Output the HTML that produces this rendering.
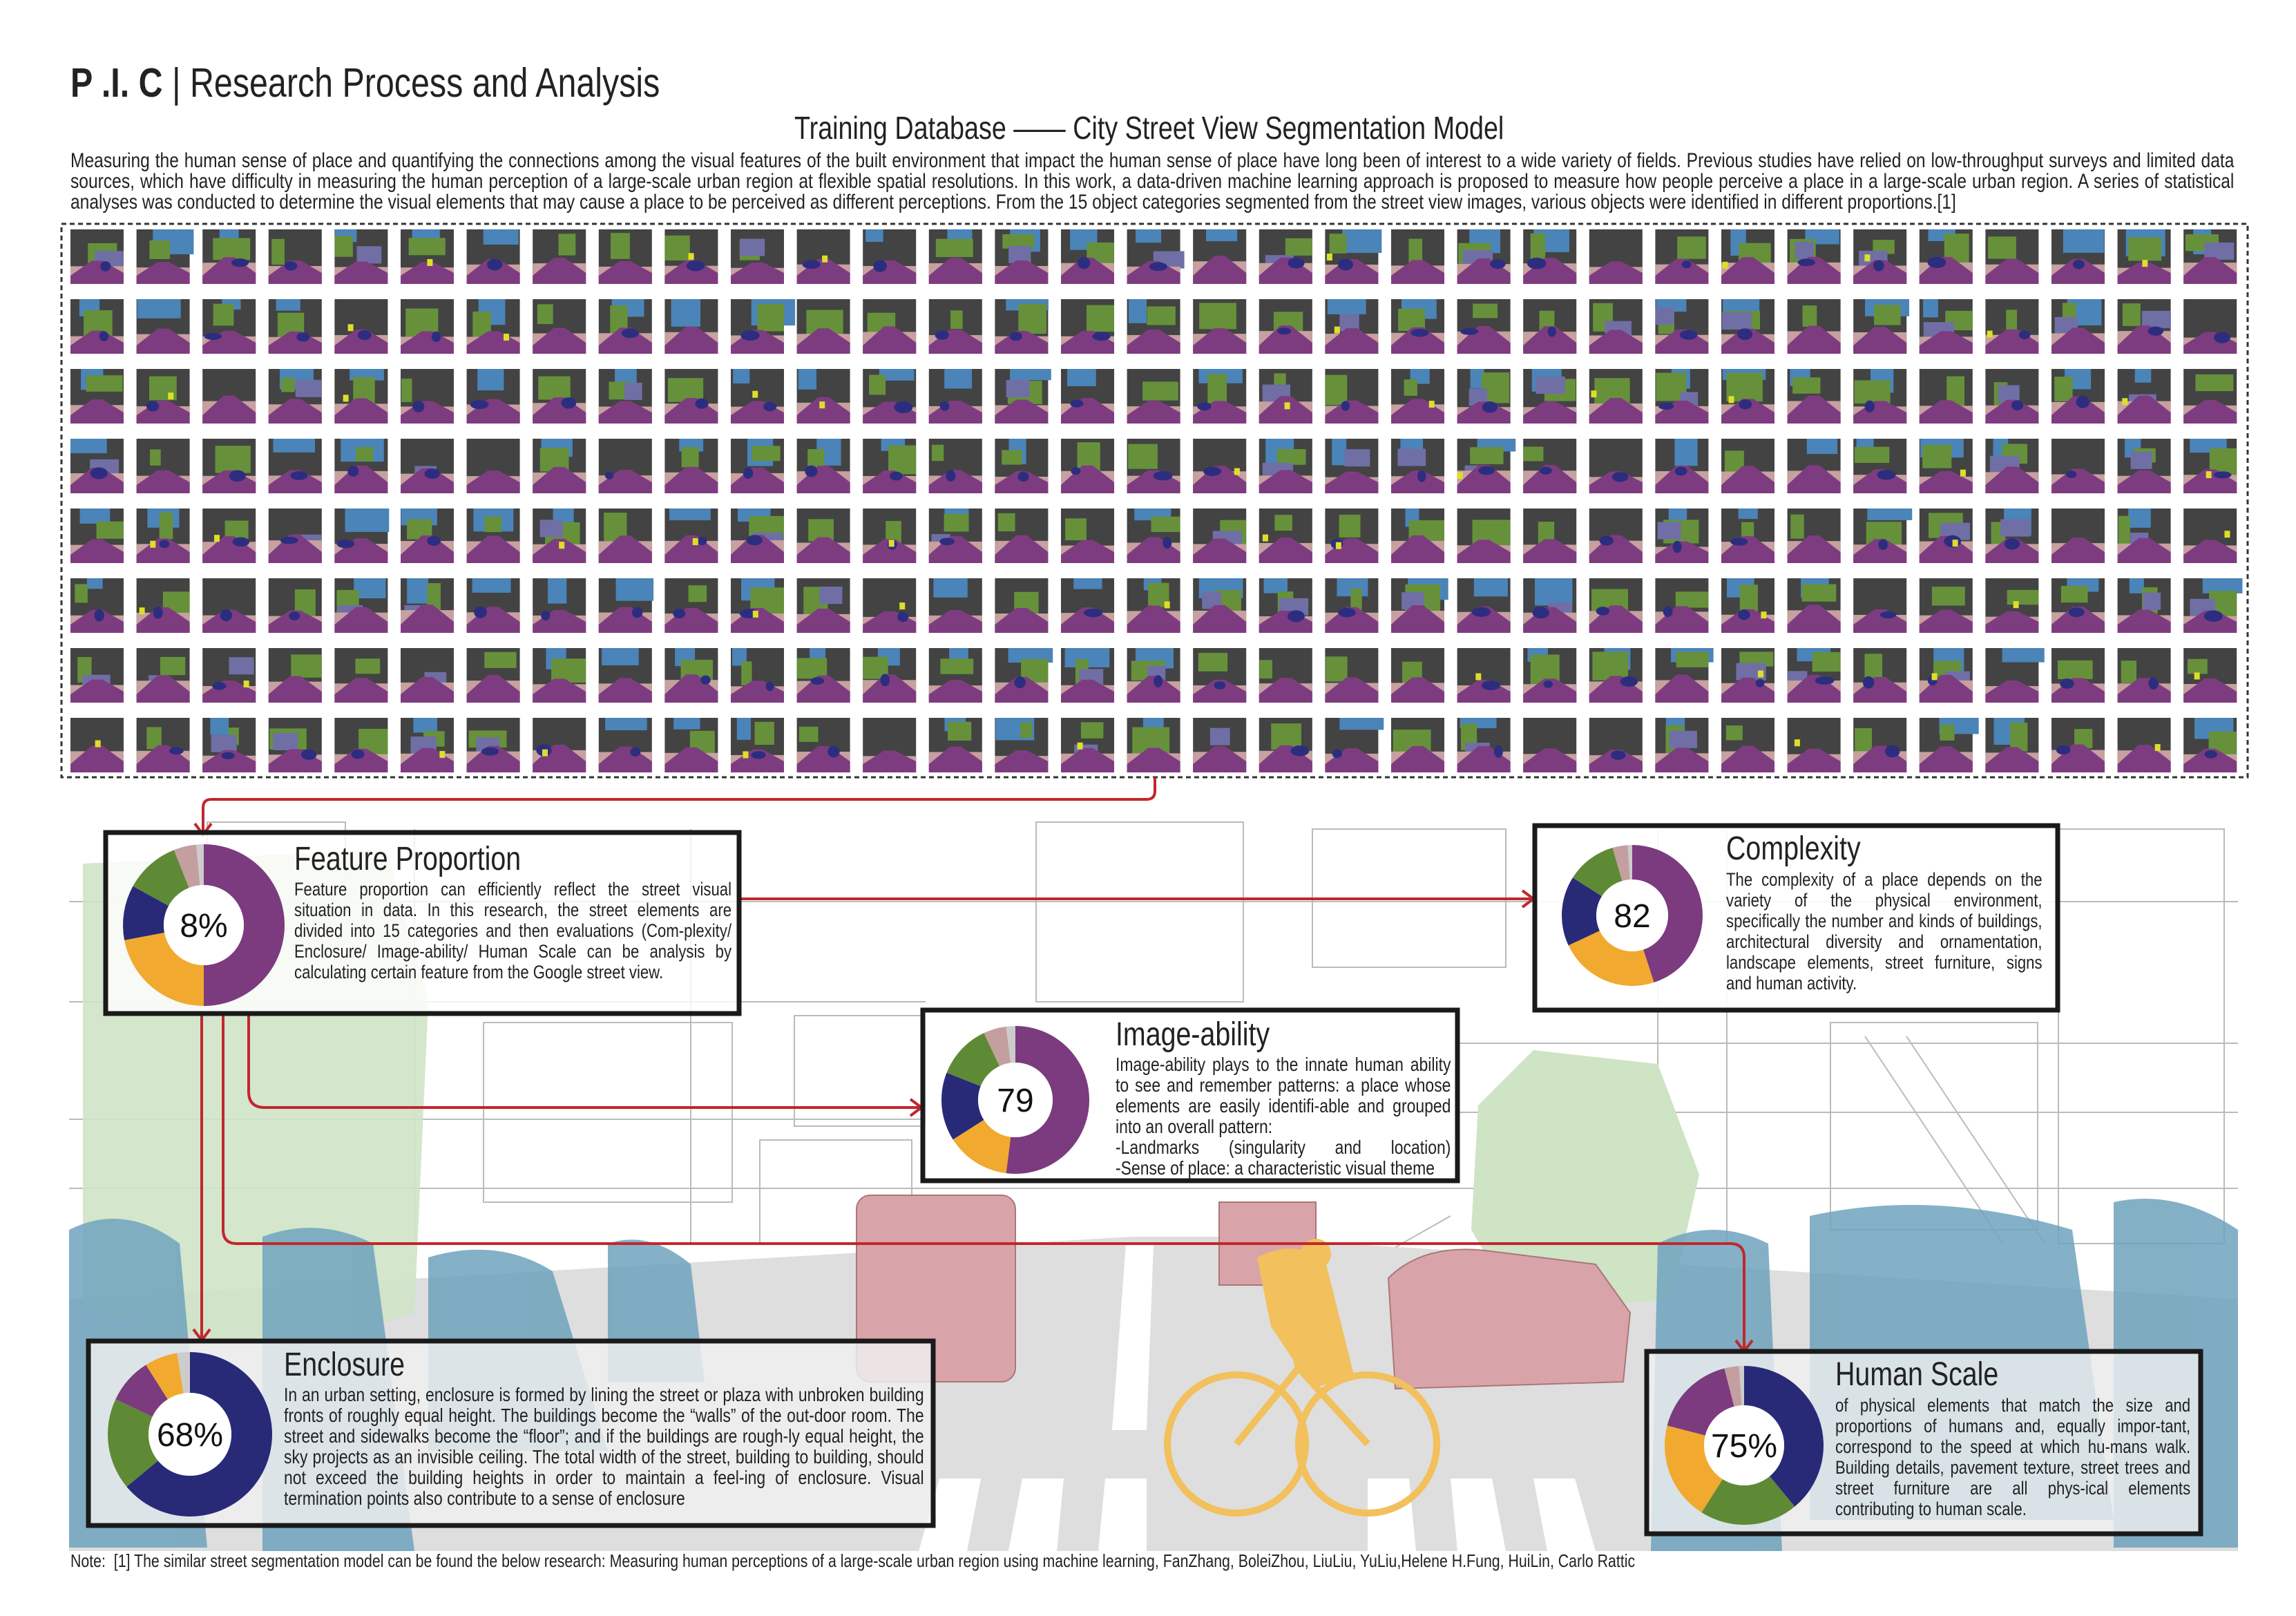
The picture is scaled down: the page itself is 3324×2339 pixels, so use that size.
<!DOCTYPE html>
<html><head><meta charset="utf-8"><style>
html,body{margin:0;padding:0;background:#fff;}
body{width:3324px;height:2339px;position:relative;overflow:hidden;font-family:"Liberation Sans",sans-serif;color:#222;}
.t{position:absolute;transform-origin:0 0;transform:scaleX(0.82);white-space:nowrap;}
.p{position:absolute;transform-origin:0 0;transform:scaleX(0.82);text-align:justify;text-align-last:left;}
svg{position:absolute;left:0;top:0;}
</style></head><body>
<svg id="main" width="3324" height="2339" viewBox="0 0 3324 2339">
 <g id="scene">
  <rect x="100" y="1168" width="3140" height="1077" fill="#fff"/>
  <g stroke="#bbb" stroke-width="2" fill="none">
   <rect x="300" y="1190" width="200" height="120"/><rect x="1500" y="1190" width="300" height="260"/>
   <rect x="1900" y="1200" width="280" height="200"/><rect x="1150" y="1470" width="190" height="160"/>
   <line x1="100" y1="1305" x2="3240" y2="1305"/><line x1="100" y1="1450" x2="1340" y2="1450"/>
   <line x1="100" y1="1620" x2="1340" y2="1620"/><line x1="2110" y1="1510" x2="3240" y2="1510"/>
   <line x1="2110" y1="1610" x2="3240" y2="1610"/><line x1="1340" y1="1720" x2="2130" y2="1720"/>
   <rect x="2980" y="1200" width="240" height="600"/><rect x="2650" y="1480" width="300" height="300"/>
   <line x1="2700" y1="1500" x2="2900" y2="1800"/><line x1="2760" y1="1500" x2="2960" y2="1800"/>
   <rect x="700" y="1480" width="360" height="260"/><rect x="1100" y="1650" width="220" height="150"/>
   <line x1="1340" y1="1760" x2="1640" y2="1930"/><line x1="2100" y1="1760" x2="1800" y2="1930"/>
   <line x1="2400" y1="1200" x2="2400" y2="1800"/><line x1="2500" y1="1200" x2="2500" y2="1800"/>
   <line x1="600" y1="1200" x2="600" y2="1800"/><line x1="1000" y1="1200" x2="1000" y2="1800"/>
   <line x1="100" y1="1720" x2="1340" y2="1720"/><line x1="2110" y1="1720" x2="3240" y2="1720"/>
  </g>
  <polygon points="100,1880 1640,1790 1780,1790 3240,1880 3240,2245 100,2245" fill="#dedede"/>
  <g fill="#fff">
   <polygon points="1360,2140 1420,2140 1400,2245 1330,2245"/><polygon points="1480,2140 1540,2140 1530,2245 1460,2245"/>
   <polygon points="1600,2140 1660,2140 1660,2245 1590,2245"/><polygon points="1980,2140 2040,2140 2050,2245 1980,2245"/>
   <polygon points="2100,2140 2160,2140 2180,2245 2110,2245"/><polygon points="2220,2140 2280,2140 2310,2245 2240,2245"/>
   <polygon points="1630,1800 1670,1800 1660,2070 1610,2070"/>
  </g>
  <path d="M120 1250 L560 1230 L620 1450 L600 1900 L420 1960 L120 1900 Z" fill="#cfe3c5" opacity="0.9"/>
  <path d="M2140 1600 L2220 1520 L2400 1540 L2460 1700 L2420 1880 L2200 1900 L2130 1780 Z" fill="#cfe3c5"/>
  <g fill="#6fa3bd" opacity="0.85">
   <path d="M100 1780 Q180 1740 260 1800 L300 2240 L100 2240 Z"/>
   <path d="M380 1790 Q460 1760 540 1800 L600 2245 L380 2245 Z"/>
   <path d="M620 1820 Q720 1790 800 1840 L880 2100 L620 2100 Z"/>
   <path d="M880 1800 Q940 1780 1000 1830 L1020 2000 L880 2000 Z"/>
   <path d="M2400 1800 Q2480 1760 2560 1800 L2580 2245 L2390 2245 Z"/>
   <path d="M2620 1760 Q2800 1720 3000 1780 L3060 2200 L2620 2200 Z"/>
   <path d="M3060 1740 Q3150 1720 3240 1780 L3240 2240 L3060 2240 Z"/>
  </g>
  <g fill="#d9a4a9" stroke="#a77" stroke-width="2">
   <rect x="1240" y="1730" width="230" height="270" rx="20"/>
   <rect x="1765" y="1740" width="140" height="120"/>
   <path d="M2010 1850 Q2060 1800 2150 1810 L2310 1830 L2360 1900 L2350 2000 L2020 2010 Z"/>
  </g>
  <g fill="none" stroke="#f2c05c" stroke-width="10">
   <circle cx="1790" cy="2090" r="100"/><circle cx="1980" cy="2090" r="100"/>
   <path d="M1790 2090 L1880 1980 L1980 2090 M1880 1980 L1860 1900"/>
  </g>
  <path d="M1820 1820 Q1880 1790 1920 1830 L1960 1990 L1900 2010 L1840 1920 Z" fill="#f2c05c"/>
  <circle cx="1905" cy="1815" r="22" fill="#f2c05c"/>
 </g>
 <rect x="89" y="324" width="3165" height="801" fill="none" stroke="#333" stroke-width="3" stroke-dasharray="7,5"/>
 <g id="thumbs"></g>
 <g id="arrows" fill="none" stroke="#c1272d" stroke-width="4">
  <path d="M1672 1125 L1672 1145 Q1672 1157 1660 1157 L306 1157 Q294 1157 294 1169 L294 1206"/>
  <path d="M1072 1301 L2218 1301"/>
  <path d="M292 1467 L292 1938"/>
  <path d="M360 1467 L360 1580 Q360 1603 383 1603 L1332 1603"/>
  <path d="M323 1467 L323 1780 Q323 1800 343 1800 L2505 1800 Q2525 1800 2525 1820 L2525 1952"/>
  <path d="M282 1192 L294 1208 L306 1192 M2204 1289 L2220 1301 L2204 1313 M280 1924 L292 1940 L304 1924 M1318 1591 L1334 1603 L1318 1615 M2513 1940 L2525 1956 L2537 1940"/>
 </g>
 <g id="boxes"></g>
</svg>

<div class="t" style="left:102px;top:86px;font-size:59px;"><b>P .I. C</b> | Research Process and Analysis</div>
<div class="t" style="left:1150px;top:158px;font-size:46px;">Training Database —— City Street View Segmentation Model</div>
<div class="p" style="left:102px;top:218px;width:3820px;font-size:30px;line-height:30px;">Measuring the human sense of place and quantifying the connections among the visual features of the built environment that impact the human sense of place have long been of interest to a wide variety of fields. Previous studies have relied on low-throughput surveys and limited data sources, which have difficulty in measuring the human perception of a large-scale urban region at flexible spatial resolutions. In this work, a data-driven machine learning approach is proposed to measure how people perceive a place in a large-scale urban region. A series of statistical analyses was conducted to determine the visual elements that may cause a place to be perceived as different perceptions. From the 15 object categories segmented from the street view images, various objects were identified in different proportions.[1]</div>

<div class="t" style="left:426px;top:1216px;font-size:48px;">Feature Proportion</div>
<div class="p" style="left:426px;top:1272px;width:772px;font-size:27px;line-height:30px;">Feature proportion can efficiently reflect the street visual situation in data. In this research, the street elements are divided into 15 categories and then evaluations (Com-plexity/ Enclosure/ Image-ability/ Human Scale can be analysis by calculating certain feature from the Google street view.</div>

<div class="t" style="left:2499px;top:1201px;font-size:48px;">Complexity</div>
<div class="p" style="left:2499px;top:1258px;width:558px;font-size:27px;line-height:30px;">The complexity of a place depends on the variety of the physical environment, specifically the number and kinds of buildings, architectural diversity and ornamentation, landscape elements, street furniture, signs and human activity.</div>

<div class="t" style="left:1615px;top:1470px;font-size:48px;">Image-ability</div>
<div class="p" style="left:1615px;top:1526px;width:592px;font-size:28px;line-height:30px;">Image-ability plays to the innate human ability to see and remember patterns: a place whose elements are easily identifi-able and grouped into an overall pattern:<br><span style="display:block;text-align-last:justify">-Landmarks (singularity and location)</span>-Sense of place: a characteristic visual theme</div>

<div class="t" style="left:411px;top:1948px;font-size:48px;">Enclosure</div>
<div class="p" style="left:411px;top:2004px;width:1130px;font-size:28px;line-height:30px;">In an urban setting, enclosure is formed by lining the street or plaza with unbroken building fronts of roughly equal height. The buildings become the “walls” of the out-door room. The street and sidewalks become the “floor”; and if the buildings are rough-ly equal height, the sky projects as an invisible ceiling. The total width of the street, building to building, should not exceed the building heights in order to maintain a feel-ing of enclosure. Visual termination points also contribute to a sense of enclosure</div>

<div class="t" style="left:2657px;top:1962px;font-size:48px;">Human Scale</div>
<div class="p" style="left:2657px;top:2019px;width:627px;font-size:27px;line-height:30px;">of physical elements that match the size and proportions of humans and, equally impor-tant, correspond to the speed at which hu-mans walk. Building details, pavement texture, street trees and street furniture are all phys-ical elements contributing to human scale.</div>

<div class="t" style="left:102px;top:2244px;font-size:26px;">Note:&nbsp; [1] The similar street segmentation model can be found the below research: Measuring human perceptions of a large-scale urban region using machine learning, FanZhang, BoleiZhou, LiuLiu, YuLiu,Helene H.Fung, HuiLin, Carlo Rattic</div>

<script>
// Donut data (fractions, clockwise from top)
const segColors = ["#7b3b7e","#f1a92f","#282a78","#5f8a35","#c49f9f","#cccccc"];
const fpValues  = [0.50,0.22,0.11,0.11,0.045,0.015];
const cxValues  = [0.45,0.23,0.16,0.115,0.035,0.01];
const imValues  = [0.52,0.14,0.15,0.12,0.05,0.02];
const enValues  = [0.64,0.18,0.09,0.065,0,0.025];
const hsValues  = [0.39,0.20,0.20,0.17,0.03,0.01];
const enColors  = ["#282a78","#5f8a35","#7b3b7e","#f1a92f","#c49f9f","#cccccc"];
const hsColors  = ["#282a78","#5f8a35","#f1a92f","#7b3b7e","#c49f9f","#cccccc"];
const donutLabels = ["8%","82","79","68%","75%"];

const NS="http://www.w3.org/2000/svg";
const boxes=document.getElementById('boxes');
function mk(t,a,p){const e=document.createElementNS(NS,t);for(const k in a)e.setAttribute(k,a[k]);(p||boxes).appendChild(e);return e;}

const panels=[
 {name:'feature-proportion',x:153,y:1205,w:917,h:262,cx:295,cy:1339,R:117,r:58,vals:fpValues,cols:segColors,lab:donutLabels[0],bg:'rgba(255,255,255,0.8)'},
 {name:'complexity',x:2222,y:1195,w:757,h:267,cx:2363,cy:1325,R:102,r:52,vals:cxValues,cols:segColors,lab:donutLabels[1],bg:'rgba(255,255,255,0.9)'},
 {name:'imageability',x:1336,y:1462,w:774,h:247,cx:1470,cy:1592,R:107,r:54,vals:imValues,cols:segColors,lab:donutLabels[2],bg:'rgba(255,255,255,0.85)'},
 {name:'enclosure',x:128,y:1941,w:1223,h:267,cx:275,cy:2076,R:119,r:60,vals:enValues,cols:enColors,lab:donutLabels[3],bg:'rgba(240,240,240,0.82)'},
 {name:'human-scale',x:2384,y:1956,w:802,h:264,cx:2525,cy:2092,R:115,r:58,vals:hsValues,cols:hsColors,lab:donutLabels[4],bg:'rgba(240,240,240,0.8)'}
];
function pt(cx,cy,R,f){const a=f*2*Math.PI-Math.PI/2;return [cx+R*Math.cos(a),cy+R*Math.sin(a)];}
panels.forEach(p=>{
 const g=mk('g',{});
 
 
 const rc=mk('rect',{x:p.x,y:p.y,width:p.w,height:p.h,fill:p.bg,stroke:'#1a1a1a','stroke-width':7},g);
 
 
 const tot=p.vals.reduce((a,b)=>a+b,0);let acc=0;
 p.vals.forEach((v,i)=>{
  if(v<=0)return;
  const f0=acc/tot,f1=(acc+v)/tot;acc+=v;
  const [x0,y0]=pt(p.cx,p.cy,p.R,f0),[x1,y1]=pt(p.cx,p.cy,p.R,f1);
  const [x2,y2]=pt(p.cx,p.cy,p.r,f1),[x3,y3]=pt(p.cx,p.cy,p.r,f0);
  const L=(f1-f0)>0.5?1:0;
  const s=mk('path',{d:`M${x0} ${y0} A${p.R} ${p.R} 0 ${L} 1 ${x1} ${y1} L${x2} ${y2} A${p.r} ${p.r} 0 ${L} 0 ${x3} ${y3} Z`,fill:p.cols[i]},g);
  
  
 });
 mk('circle',{cx:p.cx,cy:p.cy,r:p.r,fill:'#fff'},g);
 const t=mk('text',{x:p.cx,y:p.cy+17,'text-anchor':'middle','font-size':48,'font-family':'Liberation Sans, sans-serif',fill:'#111'},g);
 t.textContent=p.lab;
 
 
});

// thumbnails (decorative segmentation images)
const tg=document.getElementById('thumbs');
let seed=12345;function rnd(){seed=(seed*1103515245+12345)%2147483648;return seed/2147483648;}
for(let r=0;r<8;r++)for(let c=0;c<33;c++){
 const x=102+c*95.6,y=332+r*101,w=77,h=79;
 const g=mk('g',{},tg);
 
 
 mk('rect',{x:x,y:y,width:w,height:h,fill:'#434343'},g);
 if(rnd()<0.6)mk('rect',{x:x+rnd()*30,y:y,width:20+rnd()*45,height:15+rnd()*25,fill:'#4a84b8'},g);
 if(rnd()<0.75){const gx=x+rnd()*40;mk('rect',{x:gx,y:y+5+rnd()*15,width:Math.min(15+rnd()*40,x+w-gx),height:20+rnd()*25,fill:'#66913a'},g);}
 if(rnd()<0.3)mk('rect',{x:x+rnd()*40,y:y+10+rnd()*30,width:25+rnd()*20,height:25,fill:'#6f6fa6'},g);
 const hz=y+38+rnd()*10;
 mk('polygon',{points:`${x},${hz+8} ${x+w},${hz+8} ${x+w},${y+h} ${x},${y+h}`,fill:'#c7a0a0'},g);
 mk('polygon',{points:`${x+w*0.4},${hz} ${x+w*0.6},${hz} ${x+w},${y+h-16} ${x+w},${y+h} ${x},${y+h} ${x},${y+h-12}`,fill:'#7e3c80'},g);
 if(rnd()<0.6)mk('ellipse',{cx:x+15+rnd()*45,cy:hz+8,rx:6+rnd()*8,ry:5+rnd()*4,fill:'#2d2d80'},g);
 if(rnd()<0.2)mk('rect',{x:x+rnd()*60,y:y+30+rnd()*20,width:8,height:10,fill:'#dede2a'},g);
}
</script>
</body></html>
